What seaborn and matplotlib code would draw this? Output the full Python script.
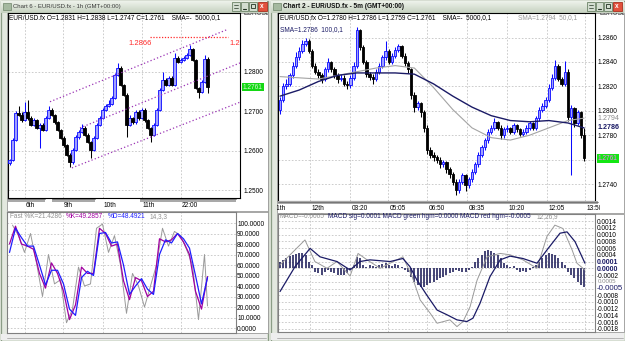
import numpy as np
import pandas as pd
import matplotlib
matplotlib.use('Agg')
import matplotlib.pyplot as plt
import seaborn as sns
from matplotlib import font_manager
from matplotlib.patches import Rectangle
from matplotlib.colors import LinearSegmentedColormap
from matplotlib.transforms import blended_transform_factory, offset_copy

# ---------------- data: Chart 6, EUR/USD 1h ----------------
l_open = [1.2570, 1.2577, 1.2628, 1.2696, 1.2691, 1.2678, 1.2699, 1.2683, 1.2666, 1.2678,
          1.2658, 1.2666, 1.2653, 1.2683, 1.2704, 1.2691, 1.2673, 1.2653, 1.2633, 1.2615,
          1.2590, 1.2572, 1.2603, 1.2635, 1.2648, 1.2658, 1.2641, 1.2623, 1.2603, 1.2633,
          1.2666, 1.2683, 1.2704, 1.2714, 1.2719, 1.2734, 1.2792, 1.2810, 1.2767, 1.2742,
          1.2666, 1.2683, 1.2673, 1.2699, 1.2683, 1.2704, 1.2678, 1.2658, 1.2641, 1.2666,
          1.2704, 1.2754, 1.2780, 1.2767, 1.2785, 1.2767, 1.2835, 1.2825, 1.2830, 1.2835,
          1.2843, 1.2856, 1.2830, 1.2759, 1.2749, 1.2775, 1.2831]
l_high = [1.2580, 1.2632, 1.2700, 1.2712, 1.2697, 1.2724, 1.2729, 1.2688, 1.2682, 1.2681,
          1.2670, 1.2670, 1.2688, 1.2714, 1.2708, 1.2694, 1.2676, 1.2656, 1.2637, 1.2618,
          1.2594, 1.2606, 1.2640, 1.2652, 1.2668, 1.2662, 1.2645, 1.2626, 1.2637, 1.2670,
          1.2688, 1.2708, 1.2718, 1.2729, 1.2738, 1.2796, 1.2823, 1.2813, 1.2770, 1.2745,
          1.2690, 1.2686, 1.2704, 1.2702, 1.2708, 1.2707, 1.2681, 1.2661, 1.2670, 1.2708,
          1.2758, 1.2800, 1.2783, 1.2790, 1.2788, 1.2848, 1.2840, 1.2834, 1.2839, 1.2847,
          1.2868, 1.2860, 1.2833, 1.2762, 1.2779, 1.2843, 1.2838]
l_low = [1.2565, 1.2574, 1.2624, 1.2687, 1.2674, 1.2675, 1.2679, 1.2662, 1.2662, 1.2654,
         1.2608, 1.2649, 1.2650, 1.2680, 1.2687, 1.2669, 1.2649, 1.2629, 1.2611, 1.2586,
         1.2559, 1.2568, 1.2600, 1.2631, 1.2645, 1.2637, 1.2619, 1.2582, 1.2600, 1.2630,
         1.2662, 1.2680, 1.2700, 1.2710, 1.2715, 1.2730, 1.2788, 1.2763, 1.2738, 1.2635,
         1.2662, 1.2669, 1.2669, 1.2679, 1.2680, 1.2674, 1.2654, 1.2623, 1.2637, 1.2662,
         1.2700, 1.2750, 1.2763, 1.2763, 1.2763, 1.2763, 1.2821, 1.2821, 1.2826, 1.2831,
         1.2839, 1.2826, 1.2755, 1.2734, 1.2745, 1.2771, 1.2747]
l_close = [1.2577, 1.2628, 1.2696, 1.2691, 1.2678, 1.2699, 1.2683, 1.2666, 1.2678, 1.2658,
           1.2666, 1.2653, 1.2683, 1.2704, 1.2691, 1.2673, 1.2653, 1.2633, 1.2615, 1.2590,
           1.2572, 1.2603, 1.2635, 1.2648, 1.2658, 1.2641, 1.2623, 1.2603, 1.2633, 1.2666,
           1.2683, 1.2704, 1.2714, 1.2719, 1.2734, 1.2792, 1.2810, 1.2767, 1.2742, 1.2666,
           1.2683, 1.2673, 1.2699, 1.2683, 1.2704, 1.2678, 1.2658, 1.2641, 1.2666, 1.2704,
           1.2754, 1.2780, 1.2767, 1.2785, 1.2767, 1.2835, 1.2825, 1.2830, 1.2835, 1.2843,
           1.2856, 1.2830, 1.2759, 1.2749, 1.2775, 1.2831, 1.2761]
l_dates = ['6th', '9th', '10th', '11th', '22:00']
l_ticks = [1.25, 1.26, 1.27, 1.28]

# trend channel + red level drawn by the user (bar index, price)
chan_upper = ([13.5, 72.5], [1.2724, 1.2906])
chan_mid = ([23.5, 77.2], [1.2658, 1.2823])
chan_low = ([20.8, 77.2], [1.2557, 1.2724])
red_level_x = [46.8, 72.8]
red_level = 1.2887
red_label = '1.2866'

# stochastic 14,3,3
stoch_idx = list(range(0, 67, 2))
stoch_k = [80, 97, 80, 78, 75, 52, 38, 62, 52, 35, 8, 22, 58, 52, 52, 95, 90, 78, 80, 45,
           27, 48, 45, 30, 35, 85, 82, 84, 90, 82, 70, 35, 18, 49]
stoch_d = [72, 95, 86, 78, 78, 60, 41, 55, 55, 42, 18, 12, 48, 54, 50, 90, 91, 81, 82, 60,
           32, 40, 47, 37, 32, 70, 84, 81, 90, 85, 76, 50, 23, 48]
fast_idx = list(range(1, 66, 2)) + [66]
fast_k = [98, 88, 72, 90, 62, 30, 70, 42, 46, 5, 18, 58, 40, 42, 95, 99, 72, 88, 60, 14,
          52, 40, 20, 40, 60, 95, 78, 92, 88, 75, 60, 8, 70, 21]
stoch_ticks = list(range(0, 101, 10))

# ---------------- data: Chart 2, EUR/USD 5m ----------------
r_open = [1.2801, 1.2809, 1.2820, 1.2822, 1.2829, 1.2837, 1.2844, 1.2849, 1.2855, 1.2857,
          1.2849, 1.2837, 1.2832, 1.2829, 1.2826, 1.2834, 1.2840, 1.2834, 1.2829, 1.2826,
          1.2827, 1.2822, 1.2821, 1.2827, 1.2837, 1.2866, 1.2852, 1.2840, 1.2830, 1.2828,
          1.2826, 1.2832, 1.2837, 1.2844, 1.2849, 1.2840, 1.2845, 1.2850, 1.2853, 1.2845,
          1.2839, 1.2834, 1.2813, 1.2803, 1.2806, 1.2799, 1.2786, 1.2768, 1.2764, 1.2762,
          1.2760, 1.2756, 1.2758, 1.2752, 1.2748, 1.2742, 1.2735, 1.2742, 1.2747, 1.2739,
          1.2744, 1.2750, 1.2756, 1.2764, 1.2770, 1.2776, 1.2783, 1.2786, 1.2791, 1.2786,
          1.2780, 1.2785, 1.2786, 1.2783, 1.2788, 1.2785, 1.2781, 1.2783, 1.2786, 1.2790,
          1.2786, 1.2794, 1.2801, 1.2804, 1.2809, 1.2819, 1.2827, 1.2837, 1.2826, 1.2822,
          1.2832, 1.2795, 1.2802, 1.2790, 1.2799, 1.2780]
r_high = [1.2811, 1.2823, 1.2826, 1.2831, 1.2840, 1.2848, 1.2852, 1.2858, 1.2860, 1.2859,
          1.2851, 1.2839, 1.2834, 1.2831, 1.2836, 1.2843, 1.2841, 1.2836, 1.2831, 1.2830,
          1.2829, 1.2824, 1.2829, 1.2840, 1.2869, 1.2867, 1.2854, 1.2842, 1.2832, 1.2830,
          1.2834, 1.2839, 1.2846, 1.2857, 1.2851, 1.2847, 1.2852, 1.2855, 1.2854, 1.2847,
          1.2841, 1.2835, 1.2815, 1.2808, 1.2807, 1.2801, 1.2788, 1.2770, 1.2766, 1.2764,
          1.2762, 1.2760, 1.2759, 1.2754, 1.2750, 1.2744, 1.2744, 1.2749, 1.2748, 1.2746,
          1.2752, 1.2758, 1.2766, 1.2772, 1.2778, 1.2785, 1.2788, 1.2794, 1.2792, 1.2788,
          1.2787, 1.2788, 1.2787, 1.2790, 1.2789, 1.2786, 1.2785, 1.2788, 1.2792, 1.2791,
          1.2796, 1.2803, 1.2806, 1.2811, 1.2822, 1.2830, 1.2842, 1.2838, 1.2828, 1.2841,
          1.2834, 1.2805, 1.2803, 1.2801, 1.2800, 1.2786]
r_low = [1.2797, 1.2807, 1.2818, 1.2820, 1.2827, 1.2835, 1.2842, 1.2847, 1.2853, 1.2847,
         1.2835, 1.2830, 1.2827, 1.2823, 1.2824, 1.2832, 1.2832, 1.2827, 1.2823, 1.2824,
         1.2820, 1.2818, 1.2819, 1.2825, 1.2835, 1.2850, 1.2838, 1.2828, 1.2825, 1.2822,
         1.2824, 1.2830, 1.2835, 1.2842, 1.2838, 1.2838, 1.2843, 1.2848, 1.2843, 1.2837,
         1.2831, 1.2810, 1.2799, 1.2801, 1.2795, 1.2783, 1.2765, 1.2761, 1.2759, 1.2757,
         1.2753, 1.2754, 1.2749, 1.2745, 1.2739, 1.2731, 1.2733, 1.2740, 1.2734, 1.2737,
         1.2742, 1.2748, 1.2754, 1.2762, 1.2768, 1.2774, 1.2781, 1.2784, 1.2784, 1.2777,
         1.2778, 1.2783, 1.2781, 1.2781, 1.2783, 1.2779, 1.2779, 1.2781, 1.2784, 1.2784,
         1.2784, 1.2792, 1.2799, 1.2802, 1.2807, 1.2817, 1.2825, 1.2824, 1.2820, 1.2820,
         1.2792, 1.2747, 1.2787, 1.2788, 1.2778, 1.2759]
r_close = [1.2809, 1.2820, 1.2822, 1.2829, 1.2837, 1.2844, 1.2849, 1.2855, 1.2857, 1.2849,
           1.2837, 1.2832, 1.2829, 1.2826, 1.2834, 1.2840, 1.2834, 1.2829, 1.2826, 1.2827,
           1.2822, 1.2821, 1.2827, 1.2837, 1.2866, 1.2852, 1.2840, 1.2830, 1.2828, 1.2826,
           1.2832, 1.2837, 1.2844, 1.2849, 1.2840, 1.2845, 1.2850, 1.2853, 1.2845, 1.2839,
           1.2834, 1.2813, 1.2803, 1.2806, 1.2799, 1.2786, 1.2768, 1.2764, 1.2762, 1.2760,
           1.2756, 1.2758, 1.2752, 1.2748, 1.2742, 1.2735, 1.2742, 1.2747, 1.2739, 1.2744,
           1.2750, 1.2756, 1.2764, 1.2770, 1.2776, 1.2783, 1.2786, 1.2791, 1.2786, 1.2780,
           1.2785, 1.2786, 1.2783, 1.2788, 1.2785, 1.2781, 1.2783, 1.2786, 1.2790, 1.2786,
           1.2794, 1.2801, 1.2804, 1.2809, 1.2819, 1.2827, 1.2837, 1.2826, 1.2822, 1.2832,
           1.2795, 1.2802, 1.2790, 1.2799, 1.2780, 1.2761]
r_dates = ['12th', '03:20', '05:05', '06:50', '08:35', '10:20', '12:05', '13:50']
r_ticks = [1.274, 1.276, 1.278, 1.280, 1.282, 1.284, 1.286]

sma_idx = [0, 6, 12, 18, 24, 30, 36, 42, 48, 54, 60, 66, 72, 78, 84, 90, 95]
sma50 = [1.2828, 1.2827, 1.2826, 1.2829, 1.2832, 1.2835, 1.2837, 1.2835, 1.2819, 1.2801,
         1.2786, 1.2778, 1.2776, 1.2780, 1.2786, 1.2792, 1.2794]
sma100 = [1.2812, 1.2817, 1.2824, 1.2829, 1.2831, 1.2831, 1.2831, 1.2830, 1.2822, 1.2812,
          1.2803, 1.2796, 1.2792, 1.2791, 1.2792, 1.2790, 1.2786]

# MACD 12,26,9
macd_idx = [0, 7.8, 10.9, 14.7, 17.8, 21.9, 24.4, 27.2, 31.3, 34.4, 38.4, 41.3, 43.8, 46.9,
            49.1, 53.1, 55.3, 57.2, 59.4, 61.6, 64.7, 68.8, 71.9, 75.9, 80.3, 83.4, 85.9,
            88.4, 91.3, 92.8, 95.3]
macd = [0.0001, 0.00084, 0.0002, 0.0, 0.0002, -0.00023, 0.00044, 0.00025, 0.0, 0.00015,
        0.00034, -0.00025, -0.00094, -0.00133, -0.00163, -0.00153, -0.00173, -0.00158,
        -0.00114, -0.00035, 0.00034, 0.00044, 0.0004, 0.00025, 0.0, 0.00094, 0.00128,
        0.00118, 0.00054, 0.00015, -0.00005]
sig_idx = [0, 4.7, 9.4, 12.5, 17.8, 21.9, 25, 28.1, 34.4, 38.4, 40.6, 42.8, 45.9, 49.1,
           52.2, 55.3, 58.4, 60.3, 62.5, 65.6, 68.8, 71.9, 75.9, 80.3, 83.4, 87.5, 89.7,
           92.2, 95.3]
macd_sig = [-0.00069, 0.00005, 0.00059, 0.00034, 0.0002, -0.00005, 0.0002, 0.00025, 0.0002,
            0.00029, 0.00005, -0.00035, -0.0008, -0.00124, -0.00138, -0.00153, -0.00158,
            -0.00148, -0.00104, -0.00025, 0.00025, 0.00036, 0.00029, 0.00015, 0.00054,
            0.00104, 0.00108, 0.00079, 0.00015]
macd_hist = [0.0002, 0.00025, 0.0003, 0.00035, 0.0004, 0.00042, 0.00045, 0.00045, 0.0004, 0.0002,
             0.0001, -0.0001, -0.00015, -0.0002, -0.0001, -0.00005, -0.0001, -0.00015, -0.0002, -0.0002,
             -0.0002, -0.00015, -0.00005, 0.0001, 0.00034, 0.0003, 0.0001, 0.00005, 0.0001, 0.00008,
             0.00005, 0.0001, 0.00012, 0.00015, 0.0001, 0.00008, 0.00012, 0.0001, 0.00005, -0.00005,
             -0.0001, -0.00025, -0.0004, -0.0005, -0.00055, -0.00055, -0.0005, -0.00045, -0.0004, -0.00035,
             -0.0003, -0.00025, -0.0002, -0.00015, -0.0001, -0.00005, -0.00008, -0.00012, -0.0001, -0.00005,
             0.00005, 0.0002, 0.0003, 0.0004, 0.0005, 0.00054, 0.0005, 0.00045, 0.0004, 0.0003,
             0.00015, 0.0001, 0.00005, 0.00008, -0.00005, -0.0001, -0.00008, -0.0001, -0.00005, 0.00005,
             0.0001, 0.0002, 0.0003, 0.0004, 0.00045, 0.00042, 0.0004, 0.0003, 0.0002, 0.0001,
             -0.0001, -0.0002, -0.0003, -0.0004, -0.0005, -0.00055]
macd_ticks = [round(-0.0018 + 0.0002 * k, 4) for k in range(17)]
# tick labels hidden under the live-value labels on the MACD scale
macd_hidden = [0.0002, 0.0, -0.0004, -0.0006]

# ---------------- layout (pixels of the 625x341 screenshot) ----------------
W, H = 625, 341
L_BAR0, L_PITCH = 9.5, 3.0
R_BAR0, R_PITCH = 280.0, 3.2
L_GRID_PX = [25, 63, 103, 142, 181]
R_GRID_PX = [310, 350, 388, 427, 467, 507, 547, 585]
L_BANDS_PX = [(8, 45), (52, 95), (140, 236)]

UP_EDGE, UP_FILL, DOWN = '#0a0aff', '#a0a0ff', '#000000'
GRID = '#c4c4c4'
NAVY = '#1b1b66'
GREYLINE = '#9a9a9a'

sns.set_theme(style='white')
names = {f.name for f in font_manager.fontManager.ttflist}
if 'Liberation Sans Narrow' in names:
    plt.rcParams['font.family'] = ['Liberation Sans Narrow', 'DejaVu Sans']
    FS = 5.6
else:
    plt.rcParams['font.family'] = ['Liberation Sans', 'DejaVu Sans']
    FS = 4.7

fig = plt.figure(figsize=(W / 100, H / 100), dpi=100)
fig.patch.set_facecolor('#e2e7dd')


def px_axes(x0, y0, x1, y1, z=1):
    ax = fig.add_axes([x0 / W, 1 - y1 / H, (x1 - x0) / W, (y1 - y0) / H])
    ax.set_zorder(z)
    return ax


def to_idx(px, bar0, pitch):
    return (np.asarray(px, dtype=float) - bar0) / pitch


def ohlc_frame(o, h, l, c):
    df = pd.DataFrame({'open': o, 'high': h, 'low': l, 'close': c})
    df['idx'] = np.arange(len(df))
    df['up'] = df['close'] >= df['open']
    return df


def draw_candles(ax, df, width):
    for up, edge, fill in [(True, UP_EDGE, UP_FILL), (False, DOWN, DOWN)]:
        d = df[df['up'] == up]
        lo = d[['open', 'close']].min(axis=1)
        ax.vlines(d['idx'], d['low'], d['high'], color=edge, lw=0.75, zorder=2)
        ax.bar(d['idx'], (d['close'] - d['open']).abs(), bottom=lo, width=width,
               color=fill, edgecolor=edge, linewidth=0.6, zorder=3)


def style_plot(ax, xlim, ylim, grid_x, ticks, labels, spine, pad):
    ax.set_facecolor('white')
    ax.set_xlim(*xlim)
    ax.set_ylim(*ylim)
    ax.set_xticks(grid_x)
    ax.tick_params(axis='x', length=0, labelbottom=False)
    ax.yaxis.tick_right()
    ax.set_yticks(ticks)
    ax.set_yticklabels(labels)
    ax.tick_params(axis='y', length=0, pad=pad, labelsize=FS, labelcolor='black')
    ax.grid(True, color=GRID, linestyle=(0, (2, 2)), linewidth=0.6)
    ax.set_axisbelow(True)
    for s in ax.spines.values():
        s.set_color(spine)
        s.set_linewidth(0.8)
    ax.set_xlabel('')
    ax.set_ylabel('')


def side_text(ax, y, s, dx, **kw):
    tr = offset_copy(blended_transform_factory(ax.transAxes, ax.transData), fig=fig,
                     x=dx, y=0, units='dots')
    ax.text(1, y, s, transform=tr, ha='left', va='center', clip_on=False, **kw)


# ---------------- window chrome ----------------
bg = px_axes(0, 0, W, H, z=0)
bg.set_xlim(0, W)
bg.set_ylim(H, 0)
bg.axis('off')
title_cmap = LinearSegmentedColormap.from_list('tb', ['#eef2eb', '#c6d2c0'])
grad = np.linspace(0, 1, 24).reshape(-1, 1)
for x0, x1 in [(0, 268), (270, 625)]:
    bg.add_patch(Rectangle((x0 + 0.5, 0.5), x1 - x0 - 1, H - 1, fc='#e3e8df',
                           ec='#8b9d86', lw=0.9, zorder=1))
    bg.imshow(grad, extent=(x0 + 1, x1 - 1, 13, 1), aspect='auto', cmap=title_cmap, zorder=2)
for (x0, y0, x1, y1) in [(7, 13, 268, 211), (7, 212, 268, 333),
                         (277, 13, 624, 213), (277, 214, 624, 332)]:
    bg.add_patch(Rectangle((x0, y0), x1 - x0, y1 - y0, fc='white', ec='#9a9a9a', lw=0.6, zorder=3))
for x0, x1, yb in [(1, 267, 333), (271, 624, 332)]:
    bg.add_patch(Rectangle((x0, yb + 0.5), x1 - x0, H - yb - 1.5, fc='#eeeeee', ec='none', zorder=3))
    bg.plot([x0 + 6, x1 - 1], [337.5, 337.5], color='#a9a9a9', lw=0.6, zorder=4)
for bx in [(232, 240.5, 249, 257.5), (587, 595.5, 604, 612.5)]:
    for k, x in enumerate(bx):
        red = k == 3
        bg.add_patch(Rectangle((x, 2), 9.5 if red else 7.5, 9,
                               fc='#e2513c' if red else '#d3ddd0',
                               ec='#a83020' if red else '#6d8468', lw=0.6, zorder=5))
    bg.text(bx[3] + 4.75, 6.6, 'x', color='white', fontsize=FS, fontweight='bold',
            ha='center', va='center', zorder=6)
    bg.plot([bx[1] + 2, bx[1] + 5.5], [9, 9], color='#223322', lw=0.8, zorder=6)
    bg.add_patch(Rectangle((bx[2] + 2, 4), 3.5, 4, fc='none', ec='#223322', lw=0.6, zorder=6))
    bg.plot([bx[0] + 2, bx[0] + 5.5], [5, 5], color='#223322', lw=0.5, zorder=6)
    bg.plot([bx[0] + 2, bx[0] + 5.5], [7.5, 7.5], color='#223322', lw=0.5, zorder=6)
for cx in [7, 277]:
    bg.add_patch(Rectangle((cx - 4, 3), 8, 7, fc='#a5b9a0', ec='#6f866a', lw=0.5, zorder=5))
bg.text(13, 6.8, 'Chart 6 - EUR/USD.fx - 1h (GMT+00:00)', fontsize=FS - 0.4, color='#3a3a3a',
        va='center', ha='left', zorder=6)
bg.text(283, 6.8, 'Chart 2 - EUR/USD.fx - 5m (GMT+00:00)', fontsize=FS, color='#101010',
        fontweight='bold', va='center', ha='left', zorder=6)

# ---------------- left: price chart ----------------
axL = px_axes(8, 13, 240, 198, z=2)
dfL = ohlc_frame(l_open, l_high, l_low, l_close)
draw_candles(axL, dfL, 0.78)
for xs, ys in [chan_upper, chan_mid, chan_low]:
    axL.plot(xs, ys, color='#9b35b5', lw=0.9, linestyle=(0, (1, 1.8)), zorder=4)
axL.plot(red_level_x, [red_level, red_level], color='#ff2a2a', lw=0.9,
         linestyle=(0, (1, 1.3)), zorder=4)
axL.text(39.5, 1.2870, red_label, color='#ff2a2a', fontsize=FS + 0.8, va='center', ha='left')
axL.text(73.3, 1.2870, red_label, color='#ff2a2a', fontsize=FS + 0.8, va='center', ha='left',
         clip_on=True)
style_plot(axL, to_idx([8, 240], L_BAR0, L_PITCH), (1.2481, 1.2948),
           to_idx(L_GRID_PX, L_BAR0, L_PITCH), l_ticks, [f'{v:.4f}' for v in l_ticks],
           'black', 2.2)
side_text(axL, l_close[-1], f'{l_close[-1]:.4f}', 3, fontsize=FS, color='#d8f8d8',
          bbox=dict(boxstyle='square,pad=0.12', fc='#14d814', ec='none'))

# date strip
axDL = px_axes(7, 198, 268, 211, z=2)
axDL.set_xlim(7, 268)
axDL.set_ylim(211, 198)
axDL.axis('off')
for a, b in L_BANDS_PX:
    axDL.add_patch(Rectangle((a, 199.2), b - a, 3.2, fc='#a9a9a9', ec='none'))
    axDL.plot([a, b], [199.4, 199.4], color='#6e6e6e', lw=0.6)
for gx, lab in zip(L_GRID_PX, l_dates):
    axDL.text(gx + 1, 205.8, lab, fontsize=FS, color='black', ha='left', va='center')

# stochastic
axS = px_axes(7, 212, 236, 333, z=2)
sns.lineplot(x=fast_idx, y=fast_k, ax=axS, color=GREYLINE, linewidth=0.7, zorder=3)
sns.lineplot(x=stoch_idx, y=stoch_k, ax=axS, color='#a000a0', linewidth=0.9, zorder=4)
sns.lineplot(x=stoch_idx, y=stoch_d, ax=axS, color='#1e1eff', linewidth=0.9, zorder=5)
style_plot(axS, to_idx([7, 236], L_BAR0, L_PITCH), (-4.76, 110.5),
           to_idx(L_GRID_PX, L_BAR0, L_PITCH), stoch_ticks,
           [f'{v:.4f}' for v in stoch_ticks], '#808080', 0.8)

# ---------------- right: price chart ----------------
axR = px_axes(278, 13, 595, 201, z=2)
dfR = ohlc_frame(r_open, r_high, r_low, r_close)
draw_candles(axR, dfR, 0.72)
sns.lineplot(x=sma_idx, y=sma50, ax=axR, color='#a4a4a4', linewidth=0.8, zorder=5)
sns.lineplot(x=sma_idx, y=sma100, ax=axR, color=NAVY, linewidth=1.0, zorder=6)
style_plot(axR, to_idx([278, 595], R_BAR0, R_PITCH), (1.27261, 1.28801),
           to_idx(R_GRID_PX, R_BAR0, R_PITCH), r_ticks,
           ['' if abs(v - 1.276) < 1e-6 else f'{v:.4f}' for v in r_ticks], 'black', 2.0)
side_text(axR, sma50[-1], f'{sma50[-1]:.4f}', 3, fontsize=FS + 0.4, color='#8c8c8c')
side_text(axR, sma100[-1], f'{sma100[-1]:.4f}', 3, fontsize=FS + 0.4, color=NAVY,
          fontweight='bold')
side_text(axR, r_close[-1], f'{r_close[-1]:.4f}', 3, fontsize=FS, color='#ff70ff',
          bbox=dict(boxstyle='square,pad=0.12', fc='#14e614', ec='none'))

axDR = px_axes(277, 201, 600, 213, z=2)
axDR.set_xlim(277, 600)
axDR.set_ylim(213, 201)
axDR.axis('off')
axDR.add_patch(Rectangle((278, 201.4), 320, 3.0, fc='#a9a9a9', ec='none'))
axDR.plot([278, 598], [201.6, 201.6], color='#6e6e6e', lw=0.6)
axDR.text(273.5, 208.5, '11th', fontsize=FS, color='black', ha='left', va='center',
          clip_on=True)
for gx, lab in zip(R_GRID_PX, r_dates):
    axDR.text(gx + 1.5, 208.5, lab, fontsize=FS, color='black', ha='left', va='center',
              clip_on=True)

# MACD
axM = px_axes(278, 214, 595, 332, z=2)
axM.vlines(np.arange(len(macd_hist)), 0, macd_hist, color='#1c1c58', lw=1.15, zorder=3)
sns.lineplot(x=macd_idx, y=macd, ax=axM, color=GREYLINE, linewidth=0.7, zorder=4)
sns.lineplot(x=sig_idx, y=macd_sig, ax=axM, color=NAVY, linewidth=0.9, zorder=5)
macd_labels = ['' if any(abs(v - h) < 1e-9 for h in macd_hidden) else f'{v:.4f}'
               for v in macd_ticks]
style_plot(axM, to_idx([278, 595], R_BAR0, R_PITCH), (-0.00189, 0.00161),
           to_idx(R_GRID_PX, R_BAR0, R_PITCH), macd_ticks, macd_labels, '#808080', 1.2)
side_text(axM, 0.00018, '0.0001', 1.5, fontsize=FS + 0.3, color=NAVY, fontweight='bold')
side_text(axM, -0.00003, '0.0000', 1.5, fontsize=FS + 0.3, color=NAVY, fontweight='bold')
side_text(axM, -0.00038, '0.0005', 3, fontsize=FS - 0.3, color='#8c8c8c')
side_text(axM, -0.00061, '-0.0005', 1.5, fontsize=FS + 1.0, color=NAVY)

# ---------------- panel captions ----------------
ov = px_axes(0, 0, W, H, z=10)
ov.set_xlim(0, W)
ov.set_ylim(H, 0)
ov.axis('off')
ov.patch.set_alpha(0)


def ptxt(x, y, s, color='black', **kw):
    return ov.text(x, y, s, fontsize=FS, color=color, ha='left', va='center', **kw)


ptxt(9, 18, 'EUR/USD.fx O=1.2831 H=1.2838 L=1.2747 C=1.2761    SMA=-  5000,0,1')
ptxt(280, 18, 'EUR/USD.fx O=1.2780 H=1.2786 L=1.2759 C=1.2761    SMA=-  5000,0,1')
ptxt(518, 18, 'SMA=1.2794  50,0,1', color='#9a9a9a')
ptxt(280, 29.5, 'SMA=1.2786  100,0,1', color=NAVY)
ptxt(10, 216.5, 'Fast %K=21.4286', color='#909090')
ptxt(66, 216.5, '%K=49.2857', color='#a000a0')
ptxt(108, 216.5, '%D=48.4921', color='#1e1eff')
ptxt(150, 216.5, '14,3,3', color='#909090')
ptxt(280, 217, 'MACD=-0.0005', color='#909090')
ptxt(328, 217, 'MACD sig=0.0001 MACD green hgm=0.0000 MACD red hgm=-0.0005', color=NAVY)
ptxt(537, 217, '12,26,9', color='#909090')
for x0, x1 in [(241, 268), (597, 624)]:
    t = ptxt(x0 + 2, 13.4, 'EURUSD', color='#303030', clip_on=True)
    t.set_clip_path(Rectangle((x0, 13), x1 - x0, 4, transform=ov.transData))

fig.savefig('out.png', dpi=100)
